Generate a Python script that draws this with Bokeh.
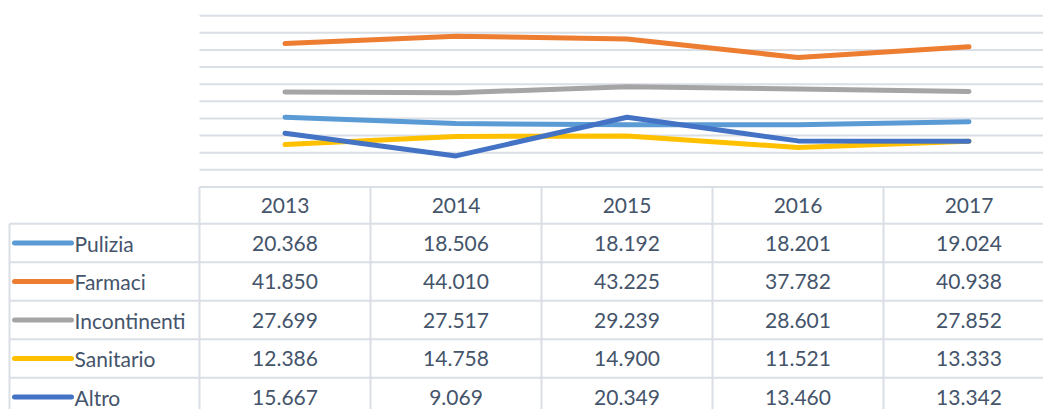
from bokeh.plotting import figure
from bokeh.models import Range1d
from bokeh.core.properties import value
from bokeh.embed import file_html
from bokeh.resources import INLINE

# ---- data ----
years = ["2013", "2014", "2015", "2016", "2017"]
series_names = ["Pulizia", "Farmaci", "Incontinenti", "Sanitario", "Altro"]
pulizia = [20.368, 18.506, 18.192, 18.201, 19.024]
farmaci = [41.850, 44.010, 43.225, 37.782, 40.938]
incontinenti = [27.699, 27.517, 29.239, 28.601, 27.852]
sanitario = [12.386, 14.758, 14.900, 11.521, 13.333]
altro = [15.667, 9.069, 20.349, 13.460, 13.342]
grid_values = [0, 5, 10, 15, 20, 25, 30, 35, 40, 45, 50]

series_values = [pulizia, farmaci, incontinenti, sanitario, altro]
colors = ["#5B9BD5", "#ED7D31", "#A5A5A5", "#FFC000", "#4472C4"]

TEXT = "#44546A"
GRID = "#DADEE5"
FONT = value("Lato")
FSIZE = "21px"

W, H = 1043, 409
COL0, COLW = 199.0, 171.0          # table column geometry (px)
Y0, YS = 186.5, 3.426              # value axis zero & px per unit
ROW0, ROWH = 223.3, 38.5           # table first data row & row height

p = figure(width=W, height=H, output_backend="svg", toolbar_location=None,
           x_range=Range1d(-COL0 / COLW, (W - COL0) / COLW),
           y_range=Range1d((Y0 - H) / YS, Y0 / YS),
           min_border=0, min_border_left=0, min_border_right=0,
           min_border_top=0, min_border_bottom=0)
p.extra_y_ranges = {"table": Range1d(start=(H - ROW0) / ROWH, end=-ROW0 / ROWH)}
p.axis.visible = False
p.xgrid.visible = False
p.ygrid.visible = False
p.outline_line_color = None
p.background_fill_color = "white"
p.border_fill_color = "white"

n = len(years)
xc = [i + 0.5 for i in range(n)]

# value gridlines (0 line doubles as table top border)
p.segment(x0=[0] * len(grid_values), x1=[n] * len(grid_values),
          y0=grid_values, y1=grid_values, line_color=GRID, line_width=2)

# table vertical lines for year columns
p.segment(x0=list(range(n + 1)), x1=list(range(n + 1)),
          y0=[0] * (n + 1), y1=[-80] * (n + 1), line_color=GRID, line_width=2)

# table row lines and left border
rows = len(series_names)
left = (9 - COL0) / COLW
p.segment(x0=[left] * (rows + 1), x1=[n] * (rows + 1),
          y0=list(range(rows + 1)), y1=list(range(rows + 1)),
          line_color=GRID, line_width=2, y_range_name="table")
p.segment(x0=[left], x1=[left], y0=[0], y1=[rows + 1],
          line_color=GRID, line_width=2, y_range_name="table")

# lines
for vals, c in zip(series_values, colors):
    p.line(xc, vals, line_color=c, line_width=5, line_cap="round", line_join="round")

# header texts
hdr = (186.5 + ROW0) / 2
p.text(x=xc, y=[(hdr - ROW0) / ROWH] * n, text=years, y_range_name="table",
       text_font=FONT, text_font_size=FSIZE, text_color=TEXT,
       text_align="center", text_baseline="middle")

# cells
cx, cy, ct = [], [], []
for r, vals in enumerate(series_values):
    for i, v in enumerate(vals):
        cx.append(i + 0.5)
        cy.append(r + 0.5)
        ct.append(f"{v:.3f}")
p.text(x=cx, y=cy, text=ct, y_range_name="table",
       text_font=FONT, text_font_size=FSIZE, text_color=TEXT,
       text_align="center", text_baseline="middle")

# legend keys & row labels
ry = [r + 0.5 for r in range(rows)]
p.segment(x0=[(14 - COL0) / COLW] * rows, x1=[(71 - COL0) / COLW] * rows, y0=ry, y1=ry,
          line_color=colors, line_width=5, line_cap="round", y_range_name="table")
p.text(x=[(74 - COL0) / COLW] * rows, y=ry, text=series_names, y_range_name="table",
       text_font=FONT, text_font_size=FSIZE, text_color=TEXT,
       text_align="left", text_baseline="middle")

open("out.html", "w").write(file_html(p, INLINE))
